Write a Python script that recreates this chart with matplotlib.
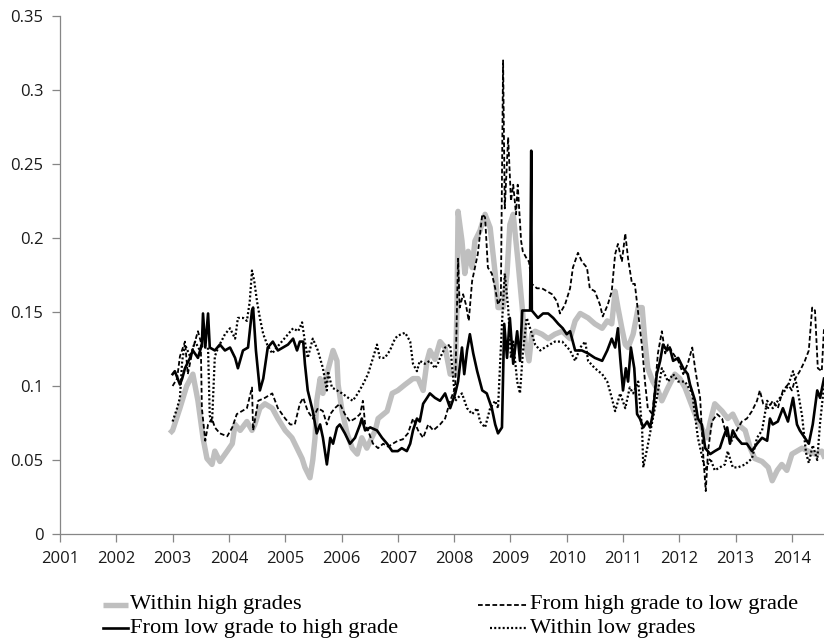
import matplotlib
matplotlib.use("Agg")
import matplotlib.pyplot as plt
from matplotlib.lines import Line2D
import numpy as np

# (year, value) pairs
within_high = [
    (2002.95, .068), (2003.0, .070), (2003.13, .085), (2003.25, .100), (2003.36, .108),
    (2003.45, .090), (2003.54, .065), (2003.61, .051), (2003.70, .047), (2003.75, .056),
    (2003.84, .049), (2003.97, .056), (2004.06, .061), (2004.11, .074), (2004.20, .070),
    (2004.32, .076), (2004.41, .070), (2004.46, .074), (2004.55, .085), (2004.64, .088),
    (2004.77, .085), (2004.87, .078), (2005.0, .070), (2005.12, .065), (2005.21, .058),
    (2005.30, .051), (2005.35, .045), (2005.44, .038), (2005.49, .050), (2005.53, .065),
    (2005.56, .090), (2005.62, .105), (2005.67, .095), (2005.74, .108), (2005.85, .124),
    (2005.92, .117), (2005.94, .101), (2006.01, .083), (2006.10, .068), (2006.19, .058),
    (2006.28, .054), (2006.36, .065), (2006.45, .058), (2006.60, .070), (2006.65, .078),
    (2006.81, .083), (2006.90, .095), (2007.0, .097), (2007.13, .101), (2007.27, .105),
    (2007.36, .105), (2007.45, .097), (2007.52, .117), (2007.57, .124), (2007.66, .118),
    (2007.75, .130), (2007.84, .126), (2007.93, .108), (2008.02, .108), (2008.05, .150),
    (2008.07, .218), (2008.14, .198), (2008.19, .176), (2008.25, .191), (2008.32, .180),
    (2008.37, .198), (2008.46, .205), (2008.55, .216), (2008.64, .207), (2008.73, .176),
    (2008.78, .153), (2008.87, .153), (2008.94, .176), (2008.99, .209), (2009.05, .216),
    (2009.13, .186), (2009.21, .153), (2009.26, .130), (2009.33, .117), (2009.38, .135),
    (2009.44, .137), (2009.56, .135), (2009.67, .132), (2009.79, .135), (2009.92, .137),
    (2010.06, .132), (2010.15, .144), (2010.24, .149), (2010.38, .146), (2010.50, .142),
    (2010.63, .139), (2010.72, .144), (2010.80, .142), (2010.86, .164), (2010.91, .153),
    (2010.98, .139), (2011.04, .128), (2011.09, .126), (2011.18, .135), (2011.27, .153),
    (2011.34, .153), (2011.39, .130), (2011.44, .112), (2011.53, .103), (2011.62, .097),
    (2011.69, .090), (2011.80, .099), (2011.92, .108), (2012.01, .105), (2012.10, .099),
    (2012.19, .090), (2012.31, .078), (2012.42, .070), (2012.49, .065), (2012.55, .076),
    (2012.63, .088), (2012.76, .083), (2012.86, .078), (2012.95, .081), (2013.04, .074),
    (2013.17, .070), (2013.26, .058), (2013.34, .051), (2013.47, .049), (2013.58, .045),
    (2013.65, .036), (2013.74, .043), (2013.82, .047), (2013.91, .043), (2014.0, .054),
    (2014.09, .056), (2014.18, .058), (2014.29, .056), (2014.41, .054), (2014.53, .056),
    (2014.60, .050),
]

high_to_low = [
    (2003.0, .100), (2003.08, .105), (2003.13, .120), (2003.22, .130), (2003.27, .108),
    (2003.36, .125), (2003.45, .137), (2003.50, .130), (2003.52, .085), (2003.58, .063),
    (2003.63, .074), (2003.70, .078), (2003.75, .072), (2003.84, .068), (2003.97, .066),
    (2004.06, .072), (2004.14, .081), (2004.23, .083), (2004.32, .085), (2004.41, .099),
    (2004.43, .070), (2004.52, .090), (2004.64, .092), (2004.77, .095), (2004.87, .085),
    (2005.0, .078), (2005.09, .074), (2005.17, .074), (2005.26, .088), (2005.32, .092),
    (2005.40, .083), (2005.49, .078), (2005.58, .085), (2005.67, .083), (2005.74, .074),
    (2005.80, .081), (2005.88, .085), (2005.97, .088), (2006.06, .081), (2006.15, .076),
    (2006.24, .078), (2006.33, .081), (2006.38, .090), (2006.42, .074), (2006.47, .070),
    (2006.56, .061), (2006.65, .058), (2006.74, .061), (2006.83, .059), (2006.91, .061),
    (2007.0, .063), (2007.09, .064), (2007.18, .068), (2007.27, .078), (2007.36, .070),
    (2007.45, .065), (2007.54, .074), (2007.63, .070), (2007.75, .074), (2007.84, .078),
    (2007.93, .090), (2008.02, .099), (2008.07, .186), (2008.10, .153), (2008.16, .162),
    (2008.21, .155), (2008.26, .144), (2008.32, .171), (2008.37, .180), (2008.42, .189),
    (2008.50, .216), (2008.55, .214), (2008.60, .180), (2008.67, .176), (2008.73, .166),
    (2008.78, .155), (2008.83, .159), (2008.87, .320), (2008.90, .220), (2008.96, .268),
    (2009.01, .225), (2009.05, .236), (2009.10, .216), (2009.13, .236), (2009.19, .198),
    (2009.22, .191), (2009.29, .186), (2009.33, .184), (2009.38, .169), (2009.47, .166),
    (2009.56, .166), (2009.65, .164), (2009.74, .162), (2009.83, .157), (2009.88, .149),
    (2009.97, .155), (2010.06, .166), (2010.11, .180), (2010.20, .190), (2010.27, .184),
    (2010.36, .180), (2010.41, .166), (2010.50, .164), (2010.59, .155), (2010.64, .147),
    (2010.73, .155), (2010.80, .164), (2010.86, .189), (2010.91, .196), (2010.98, .184),
    (2011.04, .203), (2011.09, .186), (2011.16, .169), (2011.21, .169), (2011.27, .149),
    (2011.34, .126), (2011.39, .103), (2011.44, .085), (2011.52, .081), (2011.57, .099),
    (2011.62, .122), (2011.69, .137), (2011.75, .122), (2011.80, .128), (2011.89, .122),
    (2011.98, .117), (2012.07, .108), (2012.15, .115), (2012.23, .126), (2012.28, .112),
    (2012.31, .105), (2012.37, .092), (2012.42, .056), (2012.47, .029), (2012.51, .056),
    (2012.58, .076), (2012.67, .081), (2012.76, .078), (2012.85, .065), (2012.94, .063),
    (2013.02, .070), (2013.11, .076), (2013.20, .078), (2013.29, .083), (2013.38, .090),
    (2013.43, .097), (2013.49, .088), (2013.58, .085), (2013.66, .090), (2013.75, .085),
    (2013.84, .097), (2013.93, .101), (2014.0, .097), (2014.06, .105), (2014.14, .110),
    (2014.23, .117), (2014.30, .124), (2014.36, .153), (2014.41, .151), (2014.46, .112),
    (2014.53, .110), (2014.57, .139),
]

low_to_high = [
    (2003.0, .108), (2003.04, .110), (2003.13, .101), (2003.17, .105), (2003.22, .112),
    (2003.31, .119), (2003.36, .124), (2003.45, .119), (2003.52, .128), (2003.54, .149),
    (2003.58, .126), (2003.63, .149), (2003.66, .126), (2003.75, .124), (2003.84, .128),
    (2003.93, .124), (2004.02, .126), (2004.11, .119), (2004.16, .112), (2004.25, .124),
    (2004.34, .126), (2004.41, .151), (2004.43, .153), (2004.48, .124), (2004.55, .097),
    (2004.61, .105), (2004.69, .126), (2004.78, .130), (2004.87, .124), (2004.96, .126),
    (2005.05, .128), (2005.14, .132), (2005.21, .124), (2005.26, .130), (2005.32, .130),
    (2005.35, .115), (2005.40, .097), (2005.49, .083), (2005.56, .068), (2005.62, .074),
    (2005.67, .065), (2005.74, .047), (2005.80, .065), (2005.85, .061), (2005.92, .072),
    (2005.97, .074), (2006.06, .068), (2006.15, .061), (2006.24, .065), (2006.33, .074),
    (2006.36, .078), (2006.42, .070), (2006.51, .072), (2006.63, .070), (2006.72, .065),
    (2006.81, .061), (2006.90, .056), (2007.0, .056), (2007.07, .058), (2007.16, .056),
    (2007.22, .061), (2007.27, .070), (2007.34, .078), (2007.39, .076), (2007.45, .088),
    (2007.52, .092), (2007.57, .095), (2007.66, .092), (2007.75, .090), (2007.84, .095),
    (2007.93, .085), (2008.02, .095), (2008.07, .103), (2008.14, .126), (2008.18, .108),
    (2008.23, .124), (2008.28, .135), (2008.34, .122), (2008.41, .110), (2008.50, .097),
    (2008.58, .095), (2008.67, .085), (2008.73, .074), (2008.78, .068), (2008.85, .072),
    (2008.89, .142), (2008.94, .119), (2008.99, .146), (2009.05, .115), (2009.12, .137),
    (2009.17, .117), (2009.21, .151), (2009.29, .151), (2009.35, .151), (2009.37, .259),
    (2009.38, .151), (2009.49, .146), (2009.58, .149), (2009.67, .149), (2009.76, .146),
    (2009.85, .142), (2009.93, .139), (2010.0, .135), (2010.06, .137), (2010.15, .124),
    (2010.27, .124), (2010.38, .122), (2010.50, .119), (2010.63, .117), (2010.72, .124),
    (2010.80, .132), (2010.86, .126), (2010.91, .139), (2010.95, .119), (2011.0, .097),
    (2011.05, .112), (2011.09, .103), (2011.14, .126), (2011.20, .112), (2011.25, .081),
    (2011.30, .078), (2011.36, .072), (2011.43, .076), (2011.48, .072), (2011.53, .081),
    (2011.60, .108), (2011.66, .117), (2011.71, .128), (2011.78, .124), (2011.83, .126),
    (2011.89, .117), (2011.98, .119), (2012.07, .112), (2012.15, .108), (2012.19, .101),
    (2012.24, .095), (2012.28, .090), (2012.33, .078), (2012.40, .074), (2012.46, .058),
    (2012.55, .054), (2012.63, .056), (2012.72, .058), (2012.78, .065), (2012.85, .072),
    (2012.90, .061), (2012.95, .070), (2013.02, .065), (2013.11, .061), (2013.20, .061),
    (2013.29, .056), (2013.38, .061), (2013.47, .065), (2013.56, .063), (2013.61, .078),
    (2013.66, .074), (2013.75, .076), (2013.84, .085), (2013.93, .076), (2014.02, .092),
    (2014.09, .074), (2014.14, .070), (2014.23, .065), (2014.30, .061), (2014.37, .074),
    (2014.45, .097), (2014.50, .092), (2014.57, .105),
]

within_low = [
    (2003.0, .076), (2003.08, .085), (2003.13, .092), (2003.17, .117), (2003.22, .128),
    (2003.31, .120), (2003.40, .130), (2003.47, .125), (2003.56, .128), (2003.63, .125),
    (2003.66, .080), (2003.70, .075), (2003.75, .120), (2003.81, .126), (2003.93, .135),
    (2004.02, .139), (2004.11, .132), (2004.16, .146), (2004.25, .146), (2004.32, .144),
    (2004.37, .157), (2004.41, .178), (2004.45, .171), (2004.50, .157), (2004.55, .146),
    (2004.61, .135), (2004.68, .128), (2004.77, .122), (2004.85, .126), (2004.94, .130),
    (2005.05, .135), (2005.14, .139), (2005.23, .137), (2005.30, .143), (2005.35, .130),
    (2005.40, .119), (2005.49, .132), (2005.58, .124), (2005.67, .112), (2005.74, .097),
    (2005.76, .110), (2005.83, .099), (2005.92, .097), (2006.01, .095), (2006.12, .092),
    (2006.20, .090), (2006.29, .095), (2006.38, .101), (2006.47, .108), (2006.56, .119),
    (2006.63, .128), (2006.68, .119), (2006.77, .119), (2006.86, .124), (2006.95, .132),
    (2007.0, .134), (2007.13, .136), (2007.22, .130), (2007.27, .115), (2007.34, .110),
    (2007.39, .117), (2007.48, .115), (2007.57, .117), (2007.66, .112), (2007.71, .115),
    (2007.75, .119), (2007.84, .126), (2007.93, .128), (2008.02, .090), (2008.14, .095),
    (2008.23, .085), (2008.32, .081), (2008.41, .085), (2008.46, .076), (2008.55, .072),
    (2008.64, .085), (2008.73, .090), (2008.78, .085), (2008.85, .142), (2008.90, .176),
    (2008.96, .153), (2009.01, .119), (2009.05, .130), (2009.12, .103), (2009.17, .095),
    (2009.22, .122), (2009.29, .146), (2009.35, .139), (2009.44, .128), (2009.53, .124),
    (2009.61, .126), (2009.70, .128), (2009.79, .130), (2009.92, .130), (2010.06, .124),
    (2010.15, .117), (2010.24, .126), (2010.33, .130), (2010.38, .117), (2010.50, .112),
    (2010.63, .108), (2010.72, .103), (2010.80, .092), (2010.86, .083), (2010.95, .095),
    (2011.04, .085), (2011.12, .099), (2011.18, .095), (2011.27, .103), (2011.34, .070),
    (2011.36, .045), (2011.43, .058), (2011.52, .076), (2011.60, .092), (2011.69, .112),
    (2011.80, .103), (2011.89, .108), (2011.98, .103), (2012.10, .103), (2012.23, .095),
    (2012.33, .065), (2012.46, .043), (2012.55, .051), (2012.63, .043), (2012.72, .045),
    (2012.81, .047), (2012.86, .056), (2012.95, .045), (2013.04, .045), (2013.17, .047),
    (2013.29, .051), (2013.38, .065), (2013.47, .070), (2013.56, .090), (2013.66, .085),
    (2013.75, .090), (2013.84, .095), (2013.93, .100), (2014.02, .110), (2014.09, .100),
    (2014.18, .080), (2014.25, .055), (2014.30, .048), (2014.37, .060), (2014.45, .050),
    (2014.50, .075), (2014.57, .100),
]

labels = ["Within high grades", "From high grade to low grade",
          "From low grade to high grade", "Within low grades"]
years = list(range(2001, 2015))
yticks = [0, 0.05, 0.1, 0.15, 0.2, 0.25, 0.3, 0.35]
ytick_labels = ["0", "0.05", "0.1", "0.15", "0.2", "0.25", "0.3", "0.35"]

W, H = 824, 644
fig = plt.figure(figsize=(W / 100, H / 100), dpi=100)
ax = fig.add_axes([60 / W, 1 - 534 / H, 1 - 60 / W, (534 - 16) / H])

styles = [
    dict(color="#bfbfbf", lw=3.9, solid_capstyle="butt"),
    dict(color="black", lw=1.3, dashes=(2.6, 1.4)),
    dict(color="black", lw=1.9),
    dict(color="black", lw=1.6, dashes=(0.9, 1.0)),
]
series = [within_high, high_to_low, low_to_high, within_low]
for data, st in zip(series, styles):
    t, v = zip(*data)
    ax.plot(t, v, **st)

ax.set_xlim(2001, 2014.57)
ax.set_ylim(0, 0.35)
ax.set_xticks(years)
ax.set_xticklabels([str(y) for y in years])
ax.set_yticks(yticks)
ax.set_yticklabels(ytick_labels)

for s in ["top", "right"]:
    ax.spines[s].set_visible(False)
for s in ["left", "bottom"]:
    ax.spines[s].set_color("#868686")
    ax.spines[s].set_linewidth(0.9)
ax.tick_params(axis="both", colors="#868686", labelcolor="#1a1a1a",
               labelsize=12, width=0.9, length=6)
ax.tick_params(axis="x", pad=6)
ax.tick_params(axis="y", pad=6)
for lab in ax.get_xticklabels() + ax.get_yticklabels():
    lab.set_family("Open Sans")

# legend drawn by hand, two columns under the plot
serif = "Liberation Serif"
leg = [
    (labels[0], 103, 128, 605, styles[0]),
    (labels[1], 478, 528, 605, styles[1]),
    (labels[2], 103, 128, 628, styles[2]),
    (labels[3], 490, 528, 628, styles[3]),
]
for txt, x0, x1, yy, st in leg:
    fig.add_artist(Line2D([x0 / W, x1 / W], [1 - yy / H, 1 - yy / H],
                          transform=fig.transFigure, **st))
    fig.text(x1 / W + 0.002, 1 - yy / H, txt, family=serif, fontsize=16.2,
             va="center", ha="left", color="black")

fig.savefig("out.png", dpi=100)
